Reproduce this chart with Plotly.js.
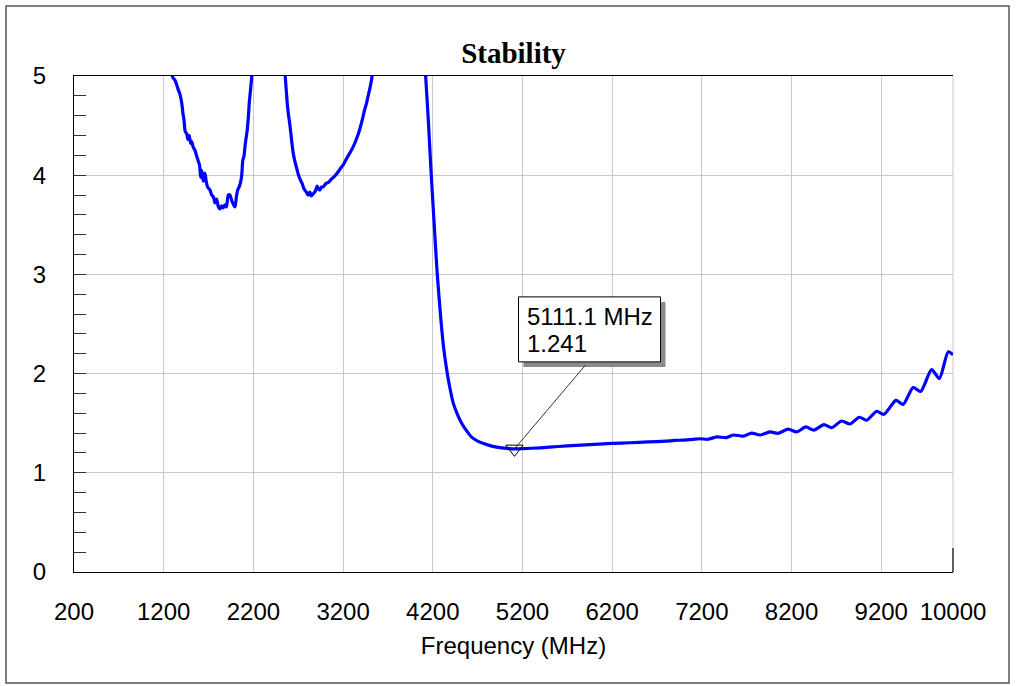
<!DOCTYPE html>
<html>
<head>
<meta charset="utf-8">
<script src="https://cdn.plot.ly/plotly-3.0.1.min.js"></script>
<style>html,body{margin:0;padding:0;background:#fff;}#chart{width:1016px;height:686px;}</style>
</head>
<body>
<div id="chart"></div>
<script>
// Frequency (MHz) and stability factor values
const freq = [
  1280, 1300, 1330, 1363, 1380, 1401, 1415, 1426, 1440, 1456, 1470, 1485, 1500, 1512, 1530, 1549, 1565, 1586, 1600, 1612,
  1624, 1640, 1660, 1675, 1690, 1716, 1735, 1755, 1772, 1790, 1810, 1828, 1845, 1862, 1883, 1900, 1920, 1939, 1960, 1980,
  1995, 2010, 2025, 2040, 2055, 2070, 2082, 2095, 2110, 2132, 2145, 2154, 2168, 2181, 2195,
  2540, 2556, 2567, 2578, 2590, 2605, 2618, 2630, 2645, 2660, 2680, 2697, 2720, 2742, 2765, 2790, 2810, 2830, 2846, 2865,
  2883, 2900, 2910, 2920, 2940, 2957, 2975, 2995, 3013, 3040, 3068, 3095, 3124, 3150, 3180, 3205, 3235, 3260, 3291, 3320,
  3347, 3375, 3403, 3420, 3440, 3460, 3477, 3500, 3522, 3540,
  4100, 4121, 4150, 4180, 4213, 4247, 4291, 4320, 4355, 4390, 4429, 4475, 4522, 4580, 4633, 4700, 4782, 4870, 4968, 5050,
  5111.1, 5200, 5400, 5600, 5800, 6000, 6200, 6400, 6600, 6800, 6900, 7000, 7100, 7179, 7270, 7365, 7476, 7550, 7661, 7755,
  7848, 7959, 8052, 8163, 8256, 8360, 8449, 8561, 8647, 8758, 8851, 8955, 9037, 9148, 9230, 9364, 9445, 9556, 9639, 9762,
  9847, 9947, 10000
];
const stability = [
  5.2, 4.99, 4.95, 4.86, 4.82, 4.73, 4.62, 4.56, 4.44, 4.42, 4.36, 4.40, 4.32, 4.34, 4.28, 4.25, 4.20, 4.14, 4.10, 3.98,
  4.05, 3.94, 4.02, 3.93, 3.88, 3.85, 3.80, 3.78, 3.72, 3.76, 3.68, 3.66, 3.69, 3.67, 3.70, 3.68, 3.80, 3.80, 3.74, 3.70,
  3.68, 3.78, 3.85, 3.88, 3.92, 4.00, 4.15, 4.19, 4.32, 4.46, 4.60, 4.73, 4.86, 4.99, 5.3,
  5.3, 4.99, 4.85, 4.72, 4.62, 4.52, 4.42, 4.32, 4.22, 4.15, 4.08, 4.02, 3.96, 3.92, 3.86, 3.83, 3.80, 3.83, 3.79, 3.81,
  3.83, 3.86, 3.89, 3.87, 3.85, 3.88, 3.88, 3.90, 3.92, 3.93, 3.96, 3.98, 4.01, 4.04, 4.08, 4.11, 4.16, 4.20, 4.25, 4.30,
  4.36, 4.43, 4.52, 4.58, 4.66, 4.72, 4.79, 4.88, 4.99, 5.2,
  5.3, 4.99, 4.56, 4.05, 3.55, 3.04, 2.54, 2.27, 2.04, 1.86, 1.70, 1.59, 1.50, 1.42, 1.36, 1.32, 1.29, 1.266, 1.251, 1.244,
  1.241, 1.243, 1.252, 1.265, 1.276, 1.287, 1.296, 1.303, 1.311, 1.320, 1.326, 1.330, 1.337, 1.343, 1.338, 1.362, 1.355, 1.381, 1.370, 1.400,
  1.381, 1.412, 1.398, 1.440, 1.412, 1.462, 1.430, 1.485, 1.455, 1.522, 1.492, 1.560, 1.530, 1.620, 1.590, 1.730, 1.690, 1.860, 1.820, 2.040,
  1.950, 2.220, 2.190
];
const xTickVals = [200, 1200, 2200, 3200, 4200, 5200, 6200, 7200, 8200, 9200, 10000];
const xTickText = ['200', '1200', '2200', '3200', '4200', '5200', '6200', '7200', '8200', '9200', '10000'];
const markerFreq = [5111.1];
const markerValue = [1.241];
const markerLabelLines = ['5111.1 MHz', '1.241'];

const FONT = 'Liberation Sans, Arial, sans-serif';

const traces = [
  {
    x: freq, y: stability, type: 'scatter', mode: 'lines',
    line: {color: '#0000ff', width: 3.2, shape: 'spline', smoothing: 0.7},
    hoverinfo: 'x+y', showlegend: false
  },
  {
    x: markerFreq, y: markerValue, type: 'scatter', mode: 'markers',
    marker: {symbol: 'triangle-down-open', size: 15, color: '#000', line: {width: 1, color: '#000'}},
    showlegend: false, cliponaxis: false
  }
];

const mx = markerFreq[0], my = markerValue[0];

const layout = {
  width: 1016, height: 686,
  margin: {l: 74, r: 63, t: 76, b: 114},
  paper_bgcolor: '#ffffff', plot_bgcolor: '#ffffff',
  font: {family: FONT, size: 24, color: '#000'},
  title: {
    text: '<b>Stability</b>',
    font: {family: 'Liberation Serif, Times New Roman, serif', size: 29, color: '#000'},
    x: 0.5, xref: 'paper', xanchor: 'center',
    y: 1 - 53 / 686, yref: 'container', yanchor: 'middle'
  },
  xaxis: {
    range: [200, 10000], tickmode: 'array', tickvals: xTickVals, ticktext: xTickText,
    showgrid: true, gridcolor: '#c8c8c8', gridwidth: 1,
    showline: true, linecolor: '#000', linewidth: 1, mirror: true,
    ticks: '', ticklabelstandoff: 18,
    tickfont: {family: FONT, size: 24, color: '#000'},
    zeroline: false,
    title: {text: 'Frequency (MHz)', font: {family: FONT, size: 24, color: '#000'}, standoff: 13}
  },
  yaxis: {
    range: [0, 5], dtick: 1, tick0: 0,
    showgrid: true, gridcolor: '#c8c8c8', gridwidth: 1,
    showline: true, linecolor: '#000', linewidth: 1,
    ticks: 'inside', ticklen: 12, tickcolor: '#333',
    minor: {dtick: 0.2, ticks: 'inside', ticklen: 12, tickcolor: '#333', showgrid: false},
    ticklabelstandoff: 22,
    tickfont: {family: FONT, size: 24, color: '#000'},
    zeroline: false
  },
  shapes: [
    {type: 'rect', xref: 'paper', yref: 'paper',
     x0: (6 - 74) / 879, x1: (1009 - 74) / 879, y0: (572 - 683) / 496, y1: (572 - 6) / 496,
     line: {color: '#555', width: 1.5}, fillcolor: 'rgba(0,0,0,0)', layer: 'below'},
    {type: 'line', xref: 'paper', yref: 'paper', x0: 1, x1: 1, y0: 0, y1: 1,
     line: {color: '#c8c8c8', width: 1}, layer: 'below'},
    {type: 'line', xref: 'paper', yref: 'paper', x0: 1, x1: 1, y0: 0, y1: 24 / 496,
     line: {color: '#333', width: 1.5}, layer: 'above'},
    // callout shadow and box, anchored to the marker point in pixel offsets
    {type: 'rect', xref: 'x', yref: 'y', xsizemode: 'pixel', ysizemode: 'pixel',
     xanchor: mx, yanchor: my, x0: 9, x1: 151, y0: 82, y1: 147,
     line: {width: 0}, fillcolor: '#8a8a8a', layer: 'above'},
    {type: 'rect', xref: 'x', yref: 'y', xsizemode: 'pixel', ysizemode: 'pixel',
     xanchor: mx, yanchor: my, x0: 4, x1: 146, y0: 87, y1: 152,
     line: {width: 1, color: '#000'}, fillcolor: '#ffffff', layer: 'above'}
  ],
  annotations: [
    {x: mx, y: my, xref: 'x', yref: 'y', text: '', showarrow: true,
     arrowhead: 0, arrowwidth: 0.8, arrowcolor: '#000', ax: 72, ay: -85, standoff: 0, startstandoff: 0},
    {x: mx, y: my, xref: 'x', yref: 'y', text: markerLabelLines[0], align: 'left',
     showarrow: false, xanchor: 'left', yanchor: 'middle', xshift: 11, yshift: 132,
     font: {family: FONT, size: 24, color: '#000'}, borderpad: 0},
    {x: mx, y: my, xref: 'x', yref: 'y', text: markerLabelLines[1], align: 'left',
     showarrow: false, xanchor: 'left', yanchor: 'middle', xshift: 11, yshift: 105,
     font: {family: FONT, size: 24, color: '#000'}, borderpad: 0}
  ]
};

Plotly.newPlot('chart', traces, layout, {displayModeBar: false, staticPlot: true});
</script>
</body>
</html>
